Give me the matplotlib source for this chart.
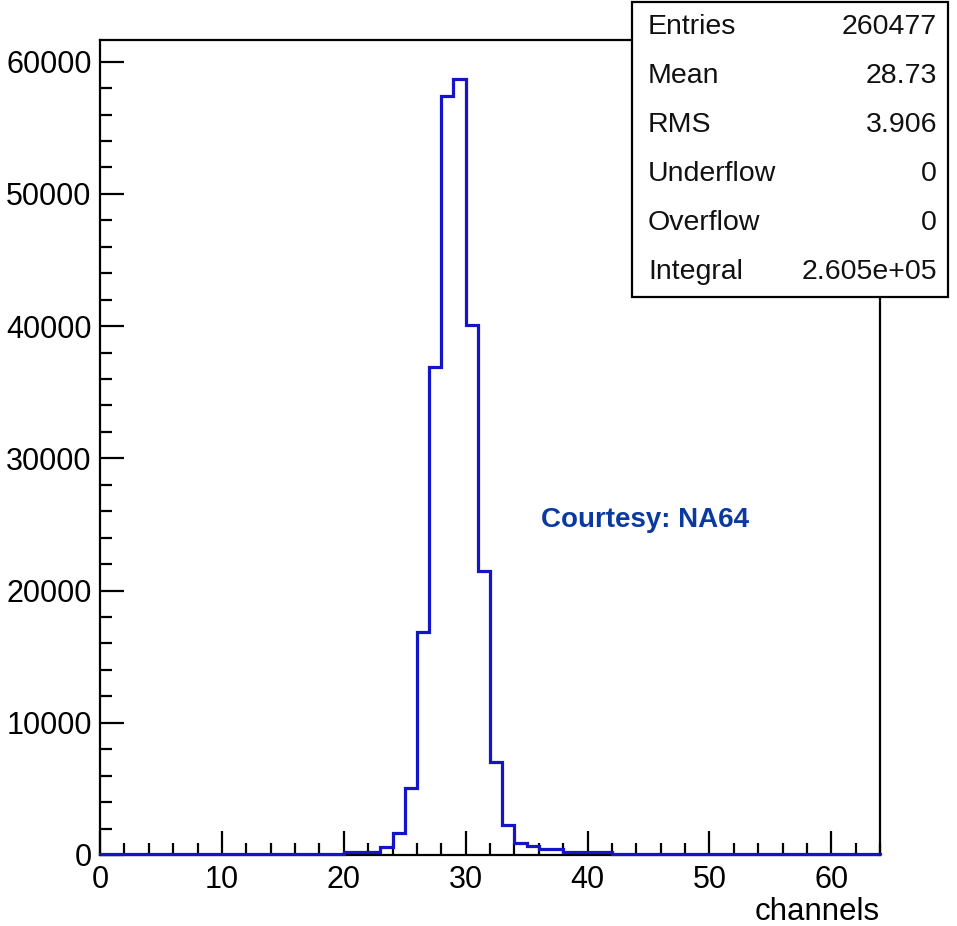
import matplotlib.pyplot as plt
from matplotlib.patches import Rectangle
from matplotlib.ticker import MultipleLocator
import numpy as np

plt.rcParams['font.family'] = ['Liberation Sans', 'DejaVu Sans']

# histogram: 64 channels, bin width 1
bin_edges = np.arange(0, 65)
counts = [
    50, 50, 50, 50, 50, 50, 50, 50, 50, 50,          # 0-9
    50, 50, 50, 50, 50, 50, 50, 50, 50, 50,          # 10-19
    200, 200, 200, 600, 1650, 5100, 16900, 36900,    # 20-27
    57400, 58700, 40100, 21500, 7000, 2300, 880,     # 28-34
    650, 450, 450, 260, 260, 260, 260,               # 35-41
    60, 60, 60, 60, 60, 60, 60, 60, 60, 60, 60,      # 42-52
    50, 50, 50, 50, 50, 50, 50, 50, 50, 50, 50,      # 53-63
]

stat_names = ['Entries', 'Mean', 'RMS', 'Underflow', 'Overflow', 'Integral']
stat_values = ['260477', '28.73', '3.906', '0', '0', '2.605e+05']

line_color = '#1414c8'

fig = plt.figure(figsize=(9.57, 9.26), dpi=100)
ax = fig.add_axes([100/957, 71/926, 780/957, 815/926])

ax.stairs(counts, bin_edges, color=line_color, linewidth=2.3, zorder=3,
          clip_on=False)

ax.set_xlim(0, 64)
ax.set_ylim(0, max(counts) * 1.05)

ax.xaxis.set_major_locator(MultipleLocator(10))
ax.xaxis.set_minor_locator(MultipleLocator(2))
ax.yaxis.set_major_locator(MultipleLocator(10000))
ax.yaxis.set_minor_locator(MultipleLocator(2000))

ax.tick_params(which='both', direction='in', width=1.6, colors='black',
               labelsize=22, top=False, right=False)
ax.tick_params(which='major', length=17)
ax.tick_params(which='minor', length=8.5)
ax.tick_params(axis='x', pad=7)
ax.tick_params(axis='y', pad=6)

for s in ax.spines.values():
    s.set_linewidth(1.6)

# stats box (ROOT style)
fig.patches.append(Rectangle((632/957, 1 - 297/926), 316/957, 295/926,
                             transform=fig.transFigure, facecolor='white',
                             edgecolor='black', linewidth=1.6, zorder=5))
for i, (name, val) in enumerate(zip(stat_names, stat_values)):
    y = 1 - (27 + 49 * i) / 926
    fig.text(648/957, y, name, ha='left', va='center', fontsize=20.5,
             zorder=6, color='#111111')
    fig.text(937/957, y, val, ha='right', va='center', fontsize=20.5,
             zorder=6, color='#111111')

ax.text(0.699, 0.411, 'Courtesy: NA64', transform=ax.transAxes,
        ha='center', va='center', fontsize=20, fontweight='bold',
        color='#0a3aa0')

fig.text(880/957, 1 - 912/926, 'channels', ha='right', va='center',
         fontsize=22.5)

fig.savefig('out.png', dpi=100)
